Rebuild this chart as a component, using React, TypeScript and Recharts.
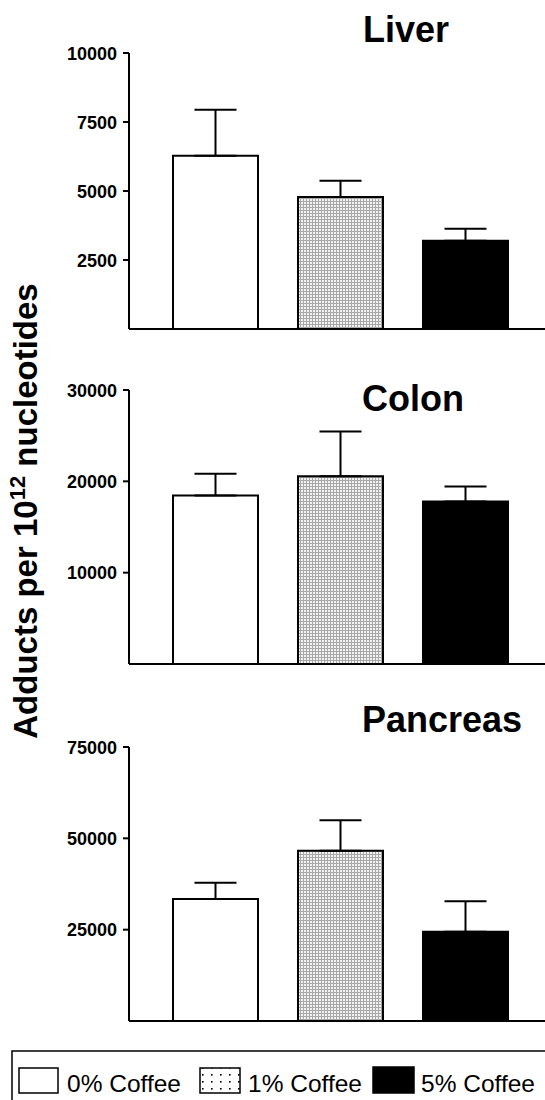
import React from 'react';
import { BarChart, Bar, XAxis, YAxis, ErrorBar, Cell } from 'recharts';

const groups = ['0% Coffee', '1% Coffee', '5% Coffee'];

const liverMean = [6280, 4780, 3200];
const liverSE = [1660, 590, 430];
const liverTicks = [2500, 5000, 7500, 10000];

const colonMean = [18450, 20560, 17790];
const colonSE = [2380, 4900, 1640];
const colonTicks = [10000, 20000, 30000];

const pancreasMean = [33360, 46570, 24420];
const pancreasSE = [4460, 8390, 8390];
const pancreasTicks = [25000, 50000, 75000];

const panelTitles = ['Liver', 'Colon', 'Pancreas'];
const yLabelMain = 'Adducts per 10';
const yLabelSup = '12';
const yLabelEnd = ' nucleotides';

const FONT = '"Liberation Sans", Arial, Helvetica, sans-serif';
const fills = ['#ffffff', 'url(#gridFill)', '#000000'];

const build = (means: number[], se: number[]) =>
  groups.map((g, i) => ({ group: g, value: means[i], err: [0, se[i]] }));

const YTick = (props: any) => {
  const { x, y, payload } = props;
  return (
    <text
      x={x}
      y={y}
      dy={6.5}
      textAnchor="end"
      fontSize={18}
      fontWeight="bold"
      fontFamily={FONT}
      fill="#000"
    >
      {payload.value}
    </text>
  );
};

type PanelProps = {
  means: number[];
  se: number[];
  ticks: number[];
  top: number;
  plotTop: number;
  plotHeight: number;
};

const Panel = ({ means, se, ticks, top, plotTop, plotHeight }: PanelProps) => {
  const data = build(means, se);
  const H = plotTop + plotHeight + 1;
  return (
    <div style={{ position: 'absolute', left: 0, top }}>
      <BarChart
        width={545}
        height={H}
        data={data}
        margin={{ top: plotTop, right: 0, bottom: 0, left: 0 }}
        barCategoryGap={20}
      >
        <XAxis
          dataKey="group"
          height={1}
          tick={false}
          tickLine={false}
          axisLine={{ stroke: '#000', strokeWidth: 2 }}
          padding={{ left: 24, right: 17 }}
        />
        <YAxis
          width={129}
          domain={[0, ticks[ticks.length - 1]]}
          ticks={ticks}
          interval={0}
          tickSize={6}
          tickMargin={6}
          axisLine={{ stroke: '#000', strokeWidth: 2 }}
          tickLine={{ stroke: '#000', strokeWidth: 2 }}
          tick={<YTick />}
        />
        <Bar dataKey="value" stroke="#000" strokeWidth={2} isAnimationActive={false}>
          {data.map((d, i) => (
            <Cell key={d.group} fill={fills[i]} />
          ))}
          <ErrorBar dataKey="err" width={21} stroke="#000" strokeWidth={2} direction="y" isAnimationActive={false} />
        </Bar>
      </BarChart>
    </div>
  );
};

export default function App() {
  return (
    <div
      style={{
        position: 'absolute',
        left: 0,
        top: 0,
        width: 545,
        height: 1100,
        background: '#fff',
        overflow: 'hidden',
        fontFamily: FONT,
      }}
    >
      <svg width={0} height={0} style={{ position: 'absolute' }}>
        <defs>
          <pattern id="gridFill" width={3} height={3} patternUnits="userSpaceOnUse">
            <rect x={0} y={0} width={3} height={3} fill="#f2f2f2" />
            <rect x={0} y={0} width={1} height={3} fill="#a8a8a8" />
            <rect x={0} y={0} width={3} height={1} fill="#a8a8a8" />
          </pattern>
          <pattern id="dotFill" width={9} height={7} patternUnits="userSpaceOnUse">
            <rect x={0} y={0} width={9} height={7} fill="#fff" />
            <rect x={4} y={3} width={1.6} height={1.6} fill="#000" />
          </pattern>
        </defs>
      </svg>

      <Panel means={liverMean} se={liverSE} ticks={liverTicks} top={0} plotTop={53} plotHeight={276} />
      <Panel means={colonMean} se={colonSE} ticks={colonTicks} top={336} plotTop={54} plotHeight={274} />
      <Panel means={pancreasMean} se={pancreasSE} ticks={pancreasTicks} top={692} plotTop={55} plotHeight={274} />

      <svg
        width={545}
        height={1100}
        style={{ position: 'absolute', left: 0, top: 0, pointerEvents: 'none' }}
        fontFamily={FONT}
      >
        <text x={363} y={42} fontSize={36} fontWeight="bold" fill="#000">{panelTitles[0]}</text>
        <text x={362} y={411} fontSize={36} fontWeight="bold" fill="#000">{panelTitles[1]}</text>
        <text x={362} y={732} fontSize={36} fontWeight="bold" fill="#000">{panelTitles[2]}</text>

        <text
          transform="translate(37,511) rotate(-90)"
          textAnchor="middle"
          fontSize={33}
          fontWeight="bold"
          fill="#000"
        >
          {yLabelMain}
          <tspan fontSize={22} dy={-12}>{yLabelSup}</tspan>
          <tspan dy={12}>{yLabelEnd}</tspan>
        </text>

        <rect x={12} y={1051} width={560} height={80} fill="none" stroke="#000" strokeWidth={1.5} />
        <rect x={19} y={1068} width={39} height={25} fill="#fff" stroke="#000" strokeWidth={1.5} />
        <text x={67} y={1092} fontSize={24.5} fill="#000">{groups[0]}</text>
        <rect x={200} y={1068} width={40} height={25} fill="url(#dotFill)" stroke="#000" strokeWidth={1.5} />
        <text x={248} y={1092} fontSize={24.5} fill="#000">{groups[1]}</text>
        <rect x={373} y={1067} width={41} height={26} fill="#000" stroke="#000" strokeWidth={1.5} />
        <text x={421} y={1092} fontSize={24.5} fill="#000">{groups[2]}</text>
      </svg>
    </div>
  );
}
